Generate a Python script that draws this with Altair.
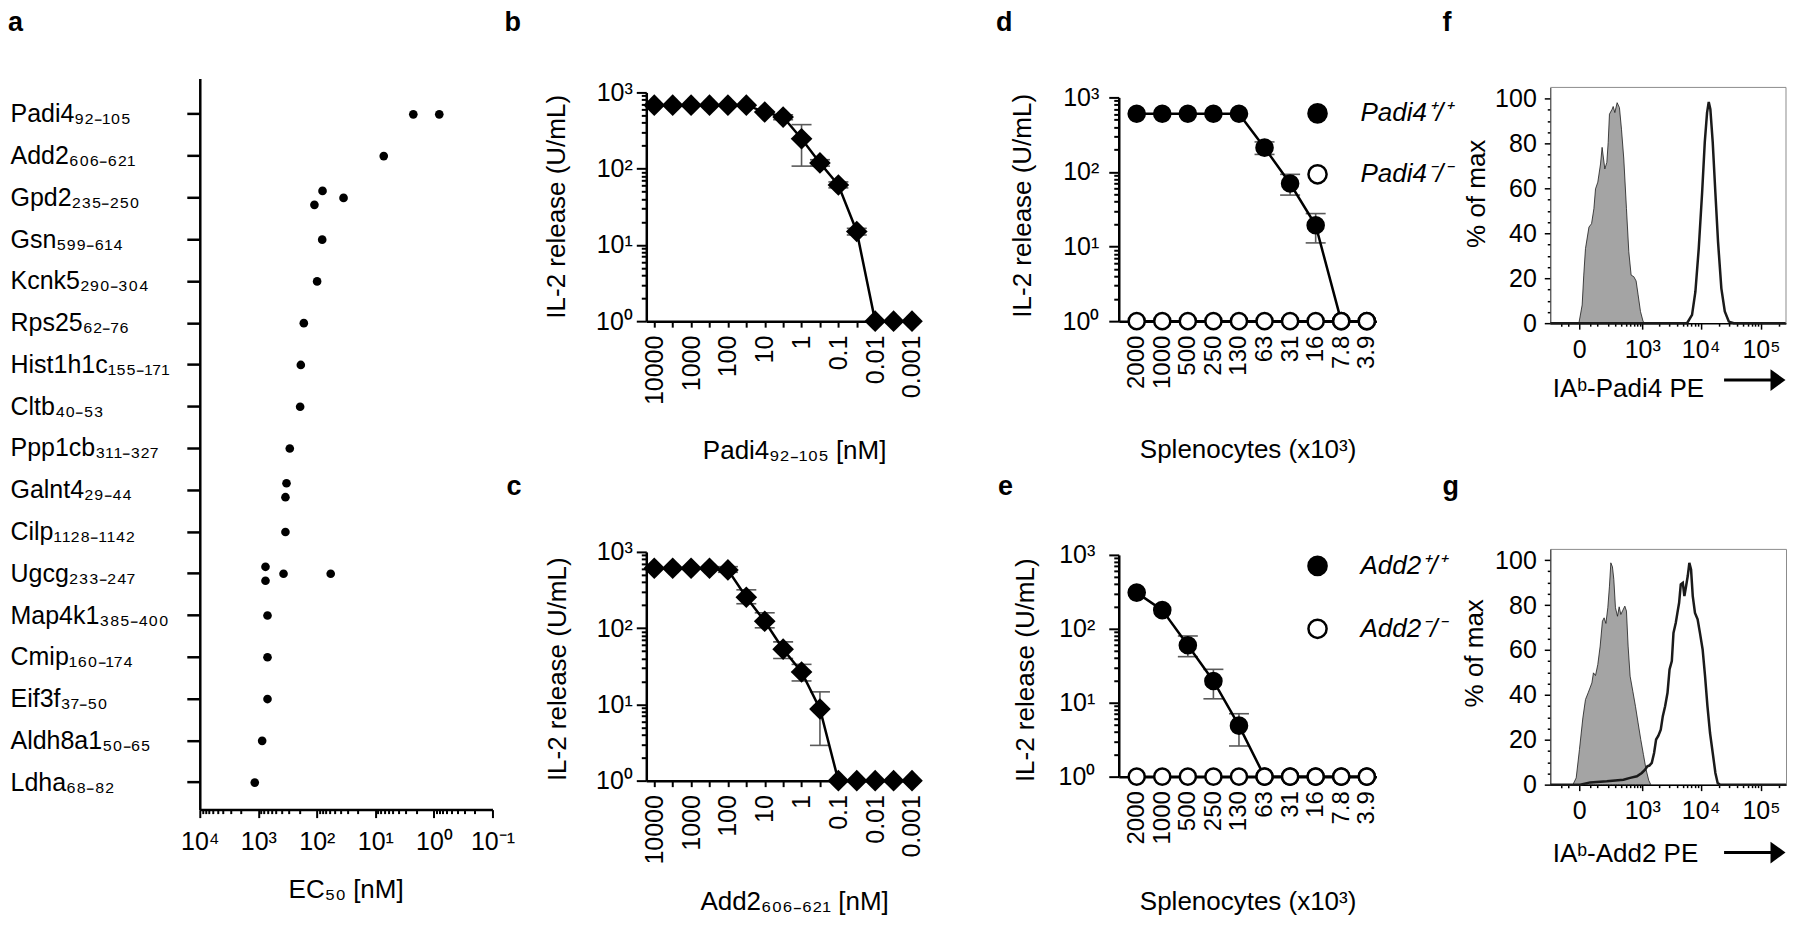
import altair as alt
import pandas as pd

FONT = "Liberation Sans"
ERR_GRAY = "#5a5a5a"

# ---------------- panel a : EC50 of peptides ----------------
a_peptides = ["Padi4₉₂₋₁₀₅", "Add2₆₀₆₋₆₂₁", "Gpd2₂₃₅₋₂₅₀", "Gsn₅₉₉₋₆₁₄", "Kcnk5₂₉₀₋₃₀₄",
              "Rps25₆₂₋₇₆", "Hist1h1c₁₅₅₋₁₇₁", "Cltb₄₀₋₅₃", "Ppp1cb₃₁₁₋₃₂₇", "Galnt4₂₉₋₄₄",
              "Cilp₁₁₂₈₋₁₁₄₂", "Ugcg₂₃₃₋₂₄₇", "Map4k1₃₈₅₋₄₀₀", "Cmip₁₆₀₋₁₇₄", "Eif3f₃₇₋₅₀",
              "Aldh8a1₅₀₋₆₅", "Ldha₆₈₋₈₂"]
a_point_row = [0, 0, 1, 2, 2, 2, 3, 4, 5, 6, 7, 8, 9, 9, 10, 11, 11, 11, 11, 12, 13, 14, 15, 16]
a_point_ec50 = [2.25, 0.81, 7.2, 80, 35, 110, 81, 99, 167, 188, 193, 290, 330, 344, 344,
                754, 754, 371, 58, 697, 697, 697, 860, 1150]
a_point_shift = [0, 0, 0, -1, 0, 1, 0, 0, 0, 0, 0, 0, -1, 1, 0, -1, 1, 0, 0, 0, 0, 0, 0, 0]
a_x_major = [10000, 1000, 100, 10, 1, 0.1]
a_x_labels = ["10⁴", "10³", "10²", "10¹", "10⁰", "10⁻¹"]

# ---------------- panels b, c : peptide titration ----------------
dose_conc = [10000, 3162, 1000, 316.2, 100, 31.62, 10, 3.162, 1, 0.3162, 0.1, 0.03162, 0.01, 0.003162, 0.001]
dose_major = [10000, 1000, 100, 10, 1, 0.1, 0.01, 0.001]
dose_labels = ["10000", "1000", "100", "10", "1", "0.1", "0.01", "0.001"]

b_il2 = [680, 680, 680, 680, 680, 680, 553, 475, 247, 119, 61, 15, 1, 1, 1]
b_err_conc = [3.162, 1, 0.3162, 0.1, 0.03162]
b_err_lo = [440, 108, 108, 56, 13.5]
b_err_hi = [510, 378, 131, 67, 16.5]

c_il2 = [611, 611, 611, 611, 581, 254, 123, 53, 26.6, 8.7, 1, 1, 1, 1, 1]
c_err_conc = [100, 31.62, 10, 3.162, 1, 0.3162]
c_err_lo = [540, 209, 101, 40, 20.3, 2.9]
c_err_hi = [640, 318, 159, 66, 33.5, 14.6]

# ---------------- panels d, e : splenocyte titration ----------------
cells = ["2000", "1000", "500", "250", "130", "63", "31", "16", "7.8", "3.9"]
d_geno = ["Padi4⁺/⁺", "Padi4⁻/⁻"]
d_wt = [603, 603, 603, 603, 603, 212, 70, 19.3, 1, 1]
d_ko = [1, 1, 1, 1, 1, 1, 1, 1, 1, 1]
d_err_cells = ["63", "31", "16"]
d_err_lo = [172, 49, 11.2]
d_err_hi = [253, 93, 27.7]

e_geno = ["Add2⁺/⁺", "Add2⁻/⁻"]
e_wt = [309, 179, 60, 19.7, 4.9, 1, 1, 1, 1, 1]
e_ko = [1, 1, 1, 1, 1, 1, 1, 1, 1, 1]
e_err_cells = ["500", "250", "130"]
e_err_lo = [42, 11.3, 2.6]
e_err_hi = [80, 28.3, 7.1]

il2_major = [1, 10, 100, 1000]
il2_labels = ["10⁰", "10¹", "10²", "10³"]

# ---------------- panels f, g : tetramer staining histograms ----------------
f_ctrl_x = [-1, 12, 19, 27, 45, 60, 75, 86, 103, 125, 139, 165, 186, 201, 216, 250, 264, 288, 323, 362,
            399, 445, 503, 559, 620, 697, 770, 839, 927, 1036, 1140]
f_ctrl_y = [0, 8.1, 21.4, 33.2, 42.8, 44.3, 51.0, 59.8, 62.8, 70.9, 78.3, 68.7, 71.6, 80.5, 93.1, 95.3,
            96.5, 93.8, 98.2, 96.0, 86.4, 73.1, 51.0, 31.8, 21.4, 20.7, 18.8, 12.6, 5.2, 0.7, 0]
f_stain_x = [-200, 5930, 7190, 8180, 9300, 10600, 11720, 12800, 13650, 14520, 15900, 17570, 19480,
             22100, 25200, 29350, 35500, 259000]
f_stain_y = [0, 0, 3.7, 14.0, 33.2, 58.3, 80.5, 93.8, 98.5, 95.3, 80.5, 58.3, 36.2, 15.5, 5.2, 0.7, 0, 0]

g_ctrl_x = [-27, -12, 1, 15, 27, 42, 62, 72, 86, 103, 122, 142, 158, 176, 197, 216, 233, 254, 273, 297,
            329, 357, 387, 426, 467, 503, 542, 593, 668, 749, 838, 938, 1049, 1171, 1307, 1418]
g_ctrl_y = [0, 3.0, 15.6, 29.7, 37.9, 41.2, 45.3, 49.8, 48.6, 53.5, 61.7, 72.8, 74.3, 71.8, 78.8, 88.4,
            98.8, 97.0, 91.4, 78.8, 75.0, 79.2, 75.8, 77.7, 79.5, 77.3, 61.7, 48.3, 41.6, 34.9, 27.5,
            20.1, 13.4, 6.7, 1.9, 0]
g_stain_x = [-200, 4, 52, 186, 438, 593, 796, 979, 1124, 1233, 1341, 1479, 1623, 1760, 1929, 2120, 2300,
             2520, 2770, 3000, 3280, 3500, 3830, 4080, 4360, 4650, 5030, 5350, 5710, 6090, 6480, 6920,
             7390, 8050, 8910, 9740, 10800, 11850, 13000, 14340, 15900, 17600, 19200, 20900, 259000]
g_stain_y = [0, 0, 1.0, 1.5, 2.2, 3.0, 3.7, 5.2, 6.7, 8.2, 8.5, 9.7, 14.1, 20.1, 21.8, 24.5, 30.5, 34.9,
             40.9, 51.3, 55.0, 67.6, 72.1, 76.5, 81.0, 89.2, 89.9, 84.0, 88.4, 92.9, 98.8, 95.8, 84.0,
             76.5, 73.6, 67.6, 60.2, 48.3, 34.9, 23.0, 14.1, 5.2, 0.7, 0, 0]
flow_major = [0, 1000, 10000, 100000]
flow_labels = ["0", "10³", "10⁴", "10⁵"]
pct_major = [0, 20, 40, 60, 80, 100]
pct_labels = ["0", "20", "40", "60", "80", "100"]

# ---------------- helpers ----------------
DUMMY = pd.DataFrame({"k": [0]})


def chain_labels(values, labels):
    expr = "''"
    for v, lab in zip(values[::-1], labels[::-1]):
        expr = f"datum.value == {v!r} ? '{lab}' : {expr}"
    return expr


def major_test(values):
    return "indexof([" + ",".join(repr(v) for v in values) + "], datum.value) >= 0"


def tick_size(values, major, minor):
    return {"condition": {"test": major_test(values), "value": major}, "value": minor}


def guard(x0, x1, y):
    # invisible spacer that fixes the extent of a panel inside the layout
    return alt.Chart(DUMMY).mark_rule(opacity=0, strokeWidth=1).encode(
        x=alt.value(x0), x2=alt.value(x1), y=alt.value(y))


def letter(ch, x, y):
    return alt.Chart(pd.DataFrame({"t": [ch]})).mark_text(
        font=FONT, fontSize=27, fontWeight="bold", align="left", baseline="alphabetic", color="black"
    ).encode(text="t:N", x=alt.value(x), y=alt.value(y))


il2_ticks = [round(m * 10.0 ** k, 6) for k in range(0, 3) for m in range(1, 10)] + [1000]


def il2_axis(tx, ty, pad):
    return alt.Axis(values=il2_ticks, labelExpr=chain_labels(il2_major, il2_labels),
                    tickSize=tick_size(il2_major, 10, 5), tickWidth=2, domainWidth=2.5,
                    labelPadding=pad, labelFontSize=25, labelOverlap=False, labelFlush=False,
                    title="IL-2 release (U/mL)", titleFontSize=26, titleAngle=270,
                    titleBaseline="bottom", titleX=tx, titleY=ty, titleLimit=600)


def il2_scale(height, top):
    return alt.Scale(type="log", domain=[1, 1000], range=[height, top], nice=False)


# ---------------- panel a ----------------
a_x_minor = [round(m * 10.0 ** k, 6) for k in range(-1, 4) for m in range(2, 10)]
df_a = pd.DataFrame({"peptide": [a_peptides[i] for i in a_point_row],
                     "ec50": a_point_ec50, "shift": a_point_shift})
a_x = alt.X("ec50:Q",
            scale=alt.Scale(type="log", domain=[0.1, 10000], reverse=True, nice=False),
            axis=alt.Axis(values=a_x_major + a_x_minor, labelExpr=chain_labels(a_x_major, a_x_labels),
                          tickSize=tick_size(a_x_major, 8, 4), tickWidth=2, domainWidth=2.5,
                          labelPadding=12, labelAngle=0, labelFontSize=25, labelOverlap=False,
                          labelFlush=False, title="EC₅₀ [nM]", titleFontSize=26, titleX=146,
                          titleY=88, titleBaseline="alphabetic"))
a_y = alt.Y("peptide:N",
            scale=alt.Scale(type="band", domain=a_peptides, paddingInner=0, paddingOuter=0.2535, align=0.71),
            axis=alt.Axis(title=None, labelAlign="left", labelPadding=177, tickSize=13, tickWidth=2.5,
                          domainWidth=2.5, labelFontSize=25, labelLimit=400))
a_pts = alt.Chart(df_a).mark_circle(size=75, color="black", opacity=1).encode(
    x=a_x, y=a_y, yOffset=alt.YOffset("shift:Q", scale=alt.Scale(domain=[-3, 3])))
panel_a = alt.layer(
    a_pts, letter("a", -192, -47), letter("b", 305, -47), letter("c", 307, 417), guard(-192, 325, -70)
).properties(width=293, height=732)


# ---------------- panels b, c ----------------
def dose_panel(il2, e_conc, e_lo, e_hi, xtitle, height, top, xt_y, yt_x, yt_y, extras):
    df = pd.DataFrame({"conc": dose_conc, "il2": il2})
    de = pd.DataFrame({"conc": e_conc, "lo": e_lo, "hi": e_hi})
    xs = alt.Scale(type="log", domain=[0.000607, 16480], reverse=True, nice=False)
    xax = alt.Axis(values=dose_conc, labelExpr=chain_labels(dose_major, dose_labels), tickSize=6,
                   tickWidth=2, domainWidth=2.5, labelAngle=270, labelPadding=8, labelFontSize=25,
                   labelOverlap=False, labelFlush=False, title=xtitle, titleFontSize=26, titleX=148,
                   titleY=xt_y, titleBaseline="alphabetic", titleLimit=600)
    ys = il2_scale(height, top)
    yax = il2_axis(yt_x, yt_y, 4)

    def X(f):
        return alt.X(f + ":Q", scale=xs, axis=xax)

    def Y(f):
        return alt.Y(f + ":Q", scale=ys, axis=yax)

    bars = alt.Chart(de).mark_rule(color=ERR_GRAY, strokeWidth=1.6).encode(x=X("conc"), y=Y("lo"), y2="hi:Q")
    cap_lo = alt.Chart(de).mark_tick(color=ERR_GRAY, orient="horizontal", size=20, thickness=1.6,
                                     opacity=1).encode(x=X("conc"), y=Y("lo"))
    cap_hi = alt.Chart(de).mark_tick(color=ERR_GRAY, orient="horizontal", size=20, thickness=1.6,
                                     opacity=1).encode(x=X("conc"), y=Y("hi"))
    line = alt.Chart(df).mark_line(color="black", strokeWidth=2.5).encode(x=X("conc"), y=Y("il2"))
    pts = alt.Chart(df).mark_point(shape="diamond", filled=True, size=470, color="black",
                                   opacity=1).encode(x=X("conc"), y=Y("il2"))
    return alt.layer(bars, cap_lo, cap_hi, line, pts, *extras).properties(width=274, height=height)


panel_b = dose_panel(b_il2, b_err_conc, b_err_lo, b_err_hi, "Padi4₉₂₋₁₀₅ [nM]", 243, 14, 137, -77, 128,
                     [guard(-122, 343, -70), guard(-122, 343, 402)])
panel_c = dose_panel(c_il2, c_err_conc, c_err_lo, c_err_hi, "Add2₆₀₆₋₆₂₁ [nM]", 229, 0, 129, -76, 117,
                     [guard(-122, 343, -72)])


# ---------------- panels d, e ----------------
def cells_panel(wt, ko, geno, e_cells, e_lo, e_hi, height, top, xt_y, yt_x, yt_y, ypad, leg_y, leg_row,
                extras):
    n = len(cells)
    df = pd.DataFrame({"cells": cells + cells, "il2": wt + ko,
                       "geno": [geno[0]] * n + [geno[1]] * n, "idx": list(range(n)) * 2})
    de = pd.DataFrame({"cells": e_cells, "lo": e_lo, "hi": e_hi})
    xs = alt.Scale(type="point", domain=cells, padding=0.54, align=0.65)
    xax = alt.Axis(tickSize=6, tickWidth=2, domainWidth=2.5, labelAngle=270, labelPadding=8,
                   labelFontSize=24, labelOverlap=False, labelFlush=False, title="Splenocytes (x10³)",
                   titleFontSize=26, titleX=129, titleY=xt_y, titleBaseline="alphabetic", titleLimit=600)
    ys = il2_scale(height, top)
    yax = il2_axis(yt_x, yt_y, ypad)

    def X():
        return alt.X("cells:N", scale=xs, axis=xax)

    def Y(f):
        return alt.Y(f + ":Q", scale=ys, axis=yax)

    bars = alt.Chart(de).mark_rule(color=ERR_GRAY, strokeWidth=1.6).encode(x=X(), y=Y("lo"), y2="hi:Q")
    cap_lo = alt.Chart(de).mark_tick(color=ERR_GRAY, orient="horizontal", size=20, thickness=1.6,
                                     opacity=1).encode(x=X(), y=Y("lo"))
    cap_hi = alt.Chart(de).mark_tick(color=ERR_GRAY, orient="horizontal", size=20, thickness=1.6,
                                     opacity=1).encode(x=X(), y=Y("hi"))
    line = alt.Chart(df).mark_line(color="black", strokeWidth=2.5).encode(
        x=X(), y=Y("il2"), detail="geno:N", order=alt.Order("idx:Q"))
    pts = alt.Chart(df).mark_circle(size=260, stroke="black", strokeWidth=2.5, opacity=1).encode(
        x=X(), y=Y("il2"),
        fill=alt.Fill("geno:N", scale=alt.Scale(domain=geno, range=["black", "white"]),
                      legend=alt.Legend(orient="none", legendX=186, legendY=leg_y, title=None,
                                        labelFontSize=26, labelFont=FONT, labelFontStyle="italic",
                                        labelColor="black", symbolType="circle", symbolSize=330,
                                        symbolStrokeColor="black", symbolStrokeWidth=2.5,
                                        rowPadding=leg_row, labelOffset=30, padding=0, labelLimit=400)))
    return alt.layer(bars, cap_lo, cap_hi, line, pts, *extras).properties(width=258, height=height)


panel_d = cells_panel(d_wt, d_ko, d_geno, d_err_cells, d_err_lo, d_err_hi, 243, 19, 136, -83, 127, 10, 22, 31,
                      [letter("d", -123, -47), letter("f", 324, -47),
                       guard(-130, 342, -70), guard(-130, 342, 389)])
panel_e = cells_panel(e_wt, e_ko, e_geno, e_err_cells, e_err_lo, e_err_hi, 222, 0, 133, -80, 115, 14, -2, 33,
                      [letter("e", -121, -60), letter("g", 324, -60), guard(-130, 342, -88)])


# ---------------- panels f, g ----------------
flow_ticks = flow_major + [-100, -50, 50] + [m * 100 for m in range(1, 10)] + \
    [m * 1000 for m in range(2, 10)] + [m * 10000 for m in range(2, 10)] + [200000]
pct_ticks = list(range(0, 101, 5))


def flow_panel(cx, cy, sx, sy, xtitle, height, top, xt_y, yt_x, yt_y, arrow_y, extras, framed):
    dc = pd.DataFrame({"fl": cx, "pct": cy})
    ds = pd.DataFrame({"fl": sx, "pct": sy})
    xs = alt.Scale(type="symlog", constant=100, domain=[-200, 259000], nice=False, zero=False)
    xax = alt.Axis(values=flow_ticks, labelExpr=chain_labels(flow_major, flow_labels),
                   tickSize=tick_size(flow_major, 6, 3), tickWidth=1.5, domainWidth=1.5, labelPadding=8,
                   labelAngle=0, labelFontSize=25, labelOverlap=False, labelFlush=False, title=xtitle,
                   titleFontSize=26, titleX=2, titleAlign="left", titleY=xt_y,
                   titleBaseline="alphabetic", titleLimit=600)
    ys = alt.Scale(domain=[0, 105], range=[height, top], nice=False, zero=False)
    yax = alt.Axis(values=pct_ticks, labelExpr=chain_labels(pct_major, pct_labels),
                   tickSize=tick_size(pct_major, 6, 3), tickWidth=1.5, domainWidth=1.2,
                   domainColor="#444444", labelPadding=8, labelFontSize=25, labelOverlap=False,
                   labelFlush=False, title="% of max", titleFontSize=26, titleAngle=270,
                   titleBaseline="bottom", titleX=yt_x, titleY=yt_y, titleLimit=600)
    X = alt.X("fl:Q", scale=xs, axis=xax)
    Y = alt.Y("pct:Q", scale=ys, axis=yax)
    ctrl = alt.Chart(dc).mark_area(color="#a4a4a4", stroke="#1a1a1a", strokeWidth=0.8, opacity=1,
                                   orient="vertical").encode(x=X, y=Y)
    stain = alt.Chart(ds).mark_line(color="#1a1a1a", strokeWidth=2.5).encode(x=X, y=Y)
    shaft = alt.Chart(DUMMY).mark_rule(color="black", strokeWidth=3).encode(
        x=alt.value(174), x2=alt.value(224), y=alt.value(arrow_y))
    head = alt.Chart(DUMMY).mark_point(shape="M-1,-1.45L1,0L-1,1.45Z", size=225, filled=True,
                                       color="black", opacity=1).encode(
        x=alt.value(228), y=alt.value(arrow_y))
    layers = [ctrl, stain, shaft, head]
    if not framed:
        # grey plot frame (top and right edges) starting at the top of the y range
        layers.append(alt.Chart(DUMMY).mark_rule(color="#8c8c8c", strokeWidth=1).encode(
            x=alt.value(0), x2=alt.value(236), y=alt.value(top)))
        layers.append(alt.Chart(DUMMY).mark_rule(color="#8c8c8c", strokeWidth=1).encode(
            x=alt.value(236), y=alt.value(top), y2=alt.value(height)))
    ch = alt.layer(*layers, *extras).properties(width=236, height=height)
    if framed:
        ch = ch.properties(view=alt.ViewBackground(stroke="#8c8c8c", strokeWidth=1))
    return ch


panel_f = flow_panel(f_ctrl_x, f_ctrl_y, f_stain_x, f_stain_y, "IAᵇ-Padi4 PE", 245, 9, 73, -61, 115, 302,
                     [guard(-88, 240, -70), guard(-88, 240, 402)], False)
panel_g = flow_panel(g_ctrl_x, g_ctrl_y, g_stain_x, g_stain_y, "IAᵇ-Add2 PE", 236, 0, 77, -63, 104, 304,
                     [guard(-88, 240, -68)], True)

# ---------------- assemble ----------------
col_a = alt.vconcat(panel_a, spacing=0)
col_b = alt.vconcat(panel_b, panel_c, spacing=0)
col_d = alt.vconcat(panel_d, panel_e, spacing=0).resolve_scale(fill="independent").resolve_legend(
    fill="independent")
col_f = alt.vconcat(panel_f, panel_g, spacing=0)

chart = alt.hconcat(col_a, col_b, col_d, col_f, spacing=0).resolve_scale(
    fill="independent").resolve_legend(fill="independent").properties(padding=0)

chart = chart.configure(font=FONT).configure_view(stroke=None).configure_axis(
    labelFont=FONT, titleFont=FONT, labelColor="black", titleColor="black", tickColor="black",
    domainColor="black", titleFontWeight="normal", grid=False)

chart.save("out.html", embed_options={"renderer": "svg", "actions": False})
